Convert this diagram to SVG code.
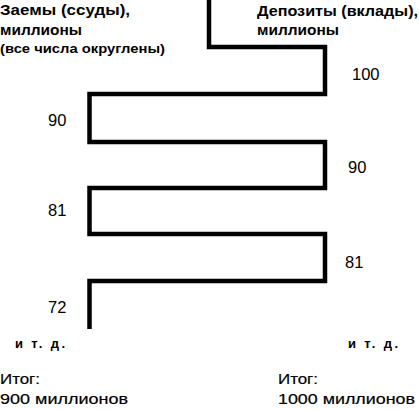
<svg xmlns="http://www.w3.org/2000/svg" width="419" height="410" viewBox="0 0 419 410">
<style>
text{font-family:"Liberation Sans",Arial,sans-serif;fill:#000}
.h{font-size:15px;font-weight:bold}
.s{font-size:13px;font-weight:bold}
.n{font-size:16.5px}
.e{font-size:13px;font-weight:bold}
.t{font-size:15px;stroke:#000;stroke-width:0.2}
.line{fill:none;stroke:#000;stroke-width:4.5;stroke-linejoin:miter;stroke-linecap:butt}
</style>
<rect width="419" height="410" fill="#fff"/>
<g id="connectors">
<path class="line" d="M209,0 V47 H325 V94 H89.5 V142 H325 V188 H89.5 V234 H325 V281 H89.5 V329"/>
</g>
<g id="loans-header">
<text class="h" x="0" y="15" textLength="130" lengthAdjust="spacingAndGlyphs">Заемы (ссуды),</text>
<text class="h" x="0" y="35" textLength="82" lengthAdjust="spacingAndGlyphs">миллионы</text>
<text class="s" x="0" y="53" textLength="165" lengthAdjust="spacingAndGlyphs">(все числа округлены)</text>
</g>
<g id="deposits-header">
<text class="h" x="257" y="16" textLength="161" lengthAdjust="spacingAndGlyphs">Депозиты (вклады),</text>
<text class="h" x="257" y="35" textLength="82" lengthAdjust="spacingAndGlyphs">миллионы</text>
</g>
<g id="values">
<text class="n" x="352" y="80">100</text>
<text class="n" x="48" y="126">90</text>
<text class="n" x="348" y="173">90</text>
<text class="n" x="48" y="216">81</text>
<text class="n" x="345" y="268">81</text>
<text class="n" x="48" y="313">72</text>
</g>
<g id="etc">
<text class="e" x="15" y="348" textLength="50" lengthAdjust="spacing">и т. д.</text>
<text class="e" x="348" y="348" textLength="50" lengthAdjust="spacing">и т. д.</text>
</g>
<g id="totals">
<text class="t" x="0" y="384" textLength="40" lengthAdjust="spacingAndGlyphs">Итог:</text>
<text class="t" x="0" y="404" textLength="128" lengthAdjust="spacingAndGlyphs">900 миллионов</text>
<text class="t" x="278" y="384" textLength="40" lengthAdjust="spacingAndGlyphs">Итог:</text>
<text class="t" x="278" y="404" textLength="137" lengthAdjust="spacingAndGlyphs">1000 миллионов</text>
</g>
</svg>
